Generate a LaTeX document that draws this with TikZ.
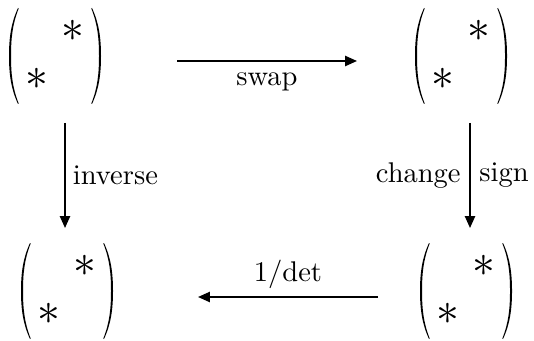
\documentclass[tikz,border=0pt]{standalone}
\usetikzlibrary{arrows.meta}
\newcommand{\bigast}{\scalebox{1.6}{$\ast$}}
\newcommand{\starmat}{$\renewcommand{\arraystretch}{1.42}\setlength{\arraycolsep}{2.2pt}\begin{array}{cc} & \bigast \\ \bigast & \end{array}$}
\newcommand{\drawparens}[1]{%
  \begin{scope}[shift={(#1)}]
    \fill[black] (-37,-48) .. controls (-44,-33) and (-46,-18) .. (-46,0)
      .. controls (-46,18) and (-44,33) .. (-37,48)
      -- (-36.3,47.5) .. controls (-42.5,32) and (-44,18) .. (-44,0)
      .. controls (-44,-18) and (-42.5,-32) .. (-36.3,-47.5) -- cycle;
    \fill[black] (37,-48) .. controls (44,-33) and (46,-18) .. (46,0)
      .. controls (46,18) and (44,33) .. (37,48)
      -- (36.3,47.5) .. controls (42.5,32) and (44,18) .. (44,0)
      .. controls (44,-18) and (42.5,-32) .. (36.3,-47.5) -- cycle;
  \end{scope}}
\tikzset{
  mat/.style={inner sep=0pt, outer sep=0pt},
  arr/.style={line width=0.6pt, -{Triangle[length=4.2pt,width=3.6pt]}},
  lbl/.style={inner sep=0pt, font=\fontsize{10}{12}\selectfont}
}
\begin{document}
\begin{tikzpicture}[x=0.3509pt,y=-0.3509pt]
\useasboundingbox (0,0) rectangle (534,340);
\node[mat] (tl) at (55,56) {\starmat};
\node[mat] (tr) at (461,56) {\starmat};
\node[mat] (bl) at (67,291) {\starmat};
\node[mat] (br) at (466,291) {\starmat};
\drawparens{tl}
\drawparens{tr}
\drawparens{bl}
\drawparens{br}
\coordinate (s1) at (177,61);
\coordinate (e1) at (357,61);
\coordinate (s2) at (65,123);
\coordinate (e2) at (65,228);
\coordinate (s3) at (470,123);
\coordinate (e3) at (470,228);
\coordinate (s4) at (378,297);
\coordinate (e4) at (198,297);
\draw[arr] (s1) -- node[lbl, anchor=base, yshift=-8.5pt] (swap) {swap} (e1);
\draw[arr] (s2) -- node[lbl, anchor=west, xshift=2.5pt] (inv) {inverse} (e2);
\draw[arr] (s3) -- node[lbl, anchor=east, xshift=-3pt] (chg) {change} node[lbl, anchor=west, xshift=3pt] (sgn) {sign} (e3);
\draw[arr] (s4) -- node[lbl, anchor=base, yshift=5.3pt] (det) {$1/\mathrm{det}$} (e4);
\end{tikzpicture}
\end{document}
